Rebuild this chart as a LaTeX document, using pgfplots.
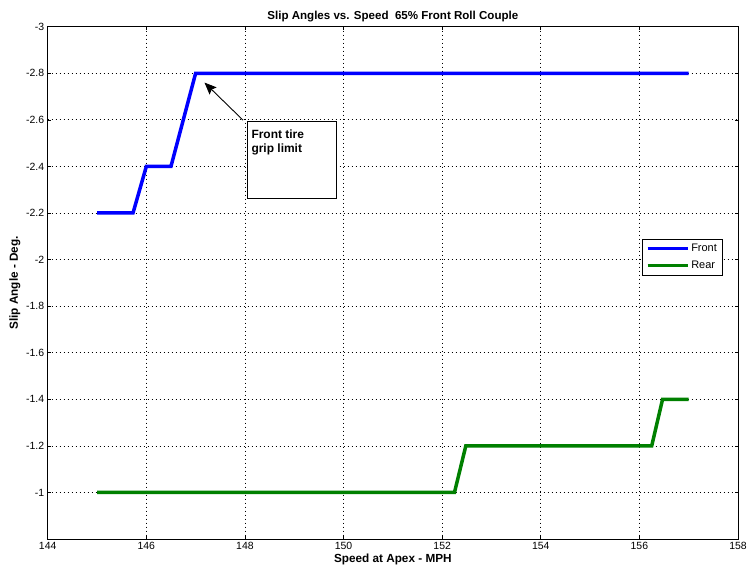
\documentclass[border=0pt]{standalone}
\usepackage{fontspec}
\setmainfont{Liberation Sans}
\usepackage{pgfplots}
\pgfplotsset{compat=1.18}
\usetikzlibrary{arrows.meta}
\definecolor{mblue}{RGB}{0,0,255}
\definecolor{mgreen}{RGB}{0,128,0}
\begin{document}
\begin{tikzpicture}[x=1bp,y=1bp]
\begin{axis}[
  name=ax,
  scale only axis,
  width=690.3bp, height=512.3bp,
  xmin=144, xmax=158,
  ymin=-3, ymax=-0.8,
  y dir=reverse,
  xtick={144,146,...,158},
  ytick={-3,-2.8,-2.6,-2.4,-2.2,-2,-1.8,-1.6,-1.4,-1.2,-1},
  yticklabels={-3,-2.8,-2.6,-2.4,-2.2,-2,-1.8,-1.6,-1.4,-1.2,-1},
  /pgf/number format/assume math mode=true,
  tick label style={font=\fontsize{10.5}{12}\selectfont},
  major tick length=3bp,
  tick style={black, line width=0.6bp},
  axis line style={line width=0.8bp},
  grid=major,
  major grid style={black, line width=0.7bp, dash pattern=on 0.7bp off 3.3bp},
  title={\bfseries Slip Angles vs. Speed\ \ 65\% Front Roll Couple},
  title style={font=\fontsize{11.6}{13}\selectfont, yshift=-5bp},
  xlabel={\bfseries Speed at Apex - MPH},
  ylabel={\bfseries Slip Angle - Deg.},
  label style={font=\fontsize{11.8}{13}\selectfont},
  xlabel style={yshift=3bp},
  ylabel style={yshift=-1bp},
  legend style={at={(0.977,0.586)}, anchor=north east, font=\fontsize{11}{12}\selectfont,
    draw=black, line width=0.6bp, inner sep=3bp, row sep=4bp},
  legend image code/.code={\draw[#1, line width=3.5bp] (0bp,0bp) -- (40bp,0bp);},
  legend cell align=left,
]
\addplot[mblue, line width=3.5bp] coordinates {
  (145,-2.2) (145.73,-2.2) (146,-2.4) (146.5,-2.4) (147,-2.8) (157,-2.8)
};
\addlegendentry{Front}
\addplot[mgreen, line width=3.5bp] coordinates {
  (145,-1) (152.25,-1) (152.48,-1.2) (156.25,-1.2) (156.47,-1.4) (157,-1.4)
};
\addlegendentry{Rear}
\draw[black, line width=0.6bp, fill=white] (axis cs:148.04,-2.595) rectangle (axis cs:149.85,-2.265);
\node[anchor=north west, align=left, font=\bfseries\fontsize{12}{15}\selectfont, inner sep=0pt]
  at (axis cs:148.13,-2.56) {Front tire\\grip limit};
\draw[-{Stealth[length=12bp,width=10bp,inset=2bp]}, black, line width=0.9bp] (axis cs:147.96,-2.599) -- (axis cs:147.18,-2.76);
\end{axis}
\pgfresetboundingbox
\path (ax.south west) ++(-47.7bp,-35bp) coordinate (bl);
\path (ax.north east) ++(13bp,26.7bp) coordinate (tr);
\path[use as bounding box] (bl) rectangle (tr);
\end{tikzpicture}
\end{document}
